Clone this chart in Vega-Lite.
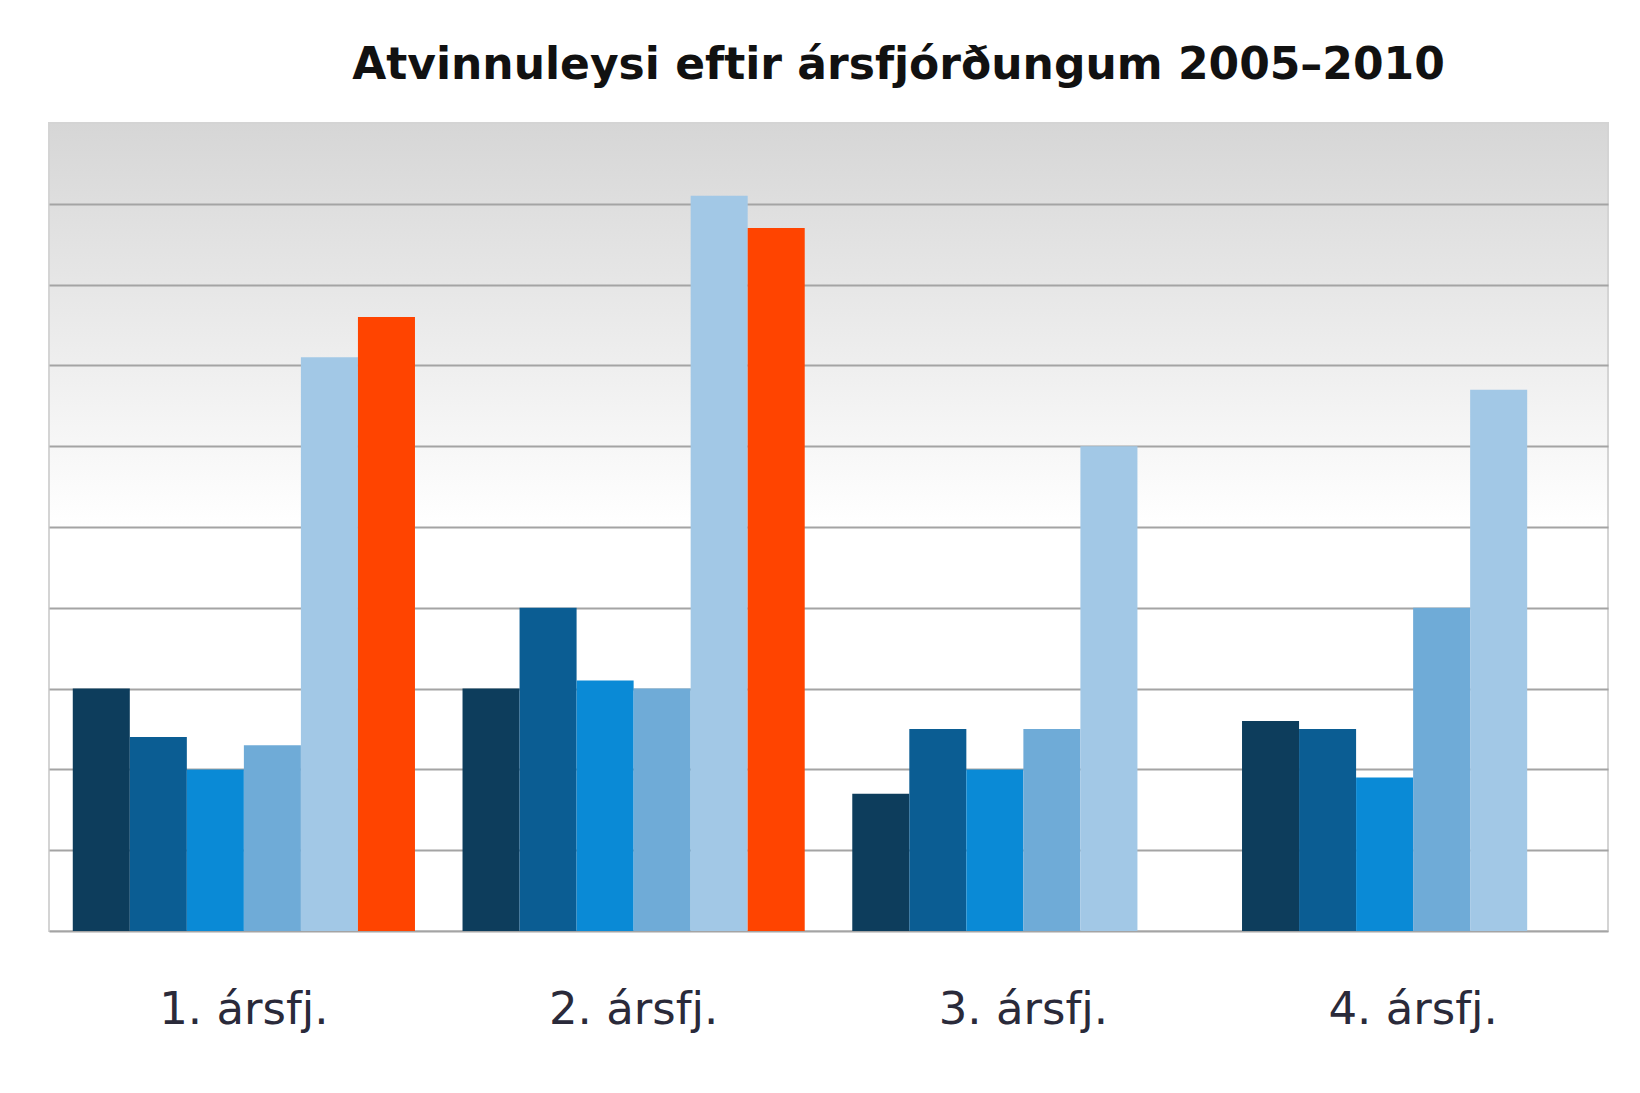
{
  "$schema": "https://vega.github.io/schema/vega-lite/v6.json",
  "autosize": {"type": "none"},
  "width": 1559,
  "height": 808,
  "padding": {"left": 49, "top": 123, "right": 32, "bottom": 162},
  "background": "#ffffff",
  "title": {
    "text": "Atvinnuleysi eftir ársfjórðungum 2005–2010",
    "font": "DejaVu Sans",
    "fontWeight": "bold",
    "fontSize": 44,
    "color": "#111111",
    "anchor": "middle",
    "dx": 70,
    "offset": 35
  },
  "data": {
    "values": [
      {"fj": "1. ársfj.", "ar": "2005", "atvinnuleysi": 3.0},
      {"fj": "1. ársfj.", "ar": "2006", "atvinnuleysi": 2.4},
      {"fj": "1. ársfj.", "ar": "2007", "atvinnuleysi": 2.0},
      {"fj": "1. ársfj.", "ar": "2008", "atvinnuleysi": 2.3},
      {"fj": "1. ársfj.", "ar": "2009", "atvinnuleysi": 7.1},
      {"fj": "1. ársfj.", "ar": "2010", "atvinnuleysi": 7.6},
      {"fj": "2. ársfj.", "ar": "2005", "atvinnuleysi": 3.0},
      {"fj": "2. ársfj.", "ar": "2006", "atvinnuleysi": 4.0},
      {"fj": "2. ársfj.", "ar": "2007", "atvinnuleysi": 3.1},
      {"fj": "2. ársfj.", "ar": "2008", "atvinnuleysi": 3.0},
      {"fj": "2. ársfj.", "ar": "2009", "atvinnuleysi": 9.1},
      {"fj": "2. ársfj.", "ar": "2010", "atvinnuleysi": 8.7},
      {"fj": "3. ársfj.", "ar": "2005", "atvinnuleysi": 1.7},
      {"fj": "3. ársfj.", "ar": "2006", "atvinnuleysi": 2.5},
      {"fj": "3. ársfj.", "ar": "2007", "atvinnuleysi": 2.0},
      {"fj": "3. ársfj.", "ar": "2008", "atvinnuleysi": 2.5},
      {"fj": "3. ársfj.", "ar": "2009", "atvinnuleysi": 6.0},
      {"fj": "4. ársfj.", "ar": "2005", "atvinnuleysi": 2.6},
      {"fj": "4. ársfj.", "ar": "2006", "atvinnuleysi": 2.5},
      {"fj": "4. ársfj.", "ar": "2007", "atvinnuleysi": 1.9},
      {"fj": "4. ársfj.", "ar": "2008", "atvinnuleysi": 4.0},
      {"fj": "4. ársfj.", "ar": "2009", "atvinnuleysi": 6.7}
    ]
  },
  "mark": {"type": "bar"},
  "encoding": {
    "x": {
      "field": "fj",
      "type": "nominal",
      "scale": {"paddingInner": 0.122, "paddingOuter": 0.061},
      "axis": {
        "title": null,
        "labelAngle": 0,
        "domain": false,
        "ticks": false,
        "labelFont": "DejaVu Sans",
        "labelFontSize": 45,
        "labelColor": "#2a2a3a",
        "labelPadding": 56
      }
    },
    "xOffset": {"field": "ar", "type": "nominal", "scale": {"paddingInner": 0, "paddingOuter": 0}},
    "y": {
      "field": "atvinnuleysi",
      "type": "quantitative",
      "scale": {"domain": [0, 10], "nice": false},
      "axis": {
        "title": null,
        "labels": false,
        "ticks": false,
        "domain": false,
        "values": [0, 1, 2, 3, 4, 5, 6, 7, 8, 9],
        "grid": true,
        "gridColor": "#a4a4a4",
        "gridWidth": 2
      }
    },
    "color": {
      "field": "ar",
      "type": "nominal",
      "scale": {
        "domain": ["2005", "2006", "2007", "2008", "2009", "2010"],
        "range": ["#0d3d5c", "#0b5d93", "#0a8ad6", "#6fabd7", "#a2c8e6", "#ff4400"]
      },
      "legend": null
    }
  },
  "config": {
    "view": {
      "stroke": "#d4d4d4",
      "strokeWidth": 2,
      "fill": {
        "gradient": "linear",
        "x1": 0, "y1": 0, "x2": 0, "y2": 1,
        "stops": [
          {"offset": 0, "color": "#d6d6d6"},
          {"offset": 0.5, "color": "#ffffff"},
          {"offset": 1, "color": "#ffffff"}
        ]
      }
    }
  }
}
